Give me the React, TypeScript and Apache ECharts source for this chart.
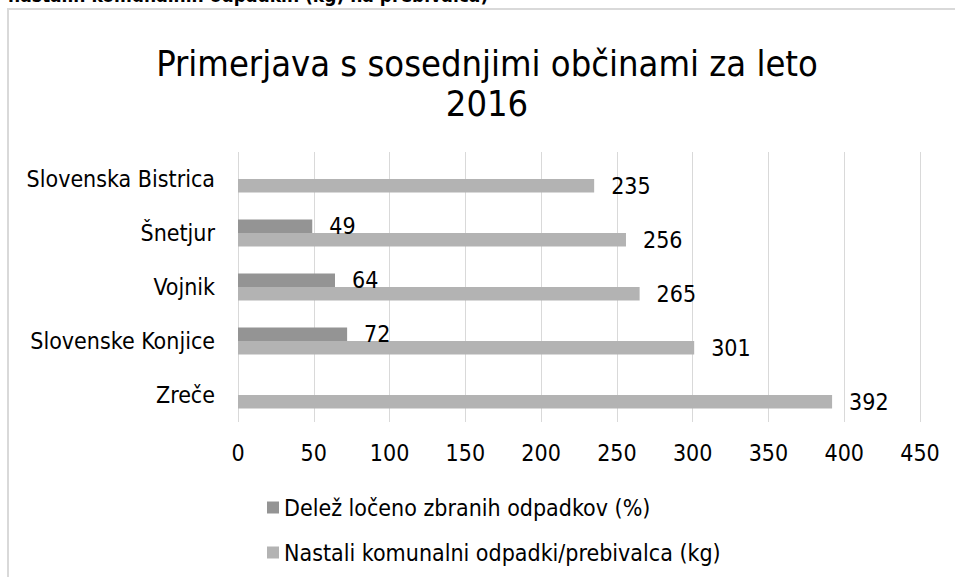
import React, { useEffect, useRef } from "react";
import * as echarts from "echarts";

const categories = ["Slovenska Bistrica", "Šnetjur", "Vojnik", "Slovenske Konjice", "Zreče"];
const sharePercent = [null, 49, 64, 72, null];
const wasteKgPerCapita = [235, 256, 265, 301, 392];
const seriesNames = ["Delež ločeno zbranih odpadkov (%)", "Nastali komunalni odpadki/prebivalca (kg)"];
const titleText = "Primerjava s sosednjimi občinami za leto\n2016";
const cutHeading = "nastalih komunalnih odpadkih (kg) na prebivalca)";

const FONT = "'DejaVu Sans Condensed', 'DejaVu Sans', sans-serif";

export default function App() {
  const ref = useRef<HTMLDivElement>(null);
  useEffect(() => {
    if (!ref.current) return;
    const chart = echarts.init(ref.current, null, { renderer: "svg" });
    const labelStyle = {
      show: true,
      position: "right" as const,
      distance: 17,
      fontSize: 23,
      fontFamily: FONT,
      color: "#000",
    };
    chart.setOption({
      animation: false,
      backgroundColor: "#fff",
      textStyle: { fontFamily: FONT },
      graphic: [
        {
          type: "line",
          shape: { x1: 8, y1: 9, x2: 8, y2: 577 },
          style: { stroke: "#d9d9d9", lineWidth: 2 },
        },
        {
          type: "line",
          shape: { x1: 7, y1: 9, x2: 955, y2: 9 },
          style: { stroke: "#d9d9d9", lineWidth: 2 },
        },
        {
          type: "text",
          x: 8,
          y: -5,
          style: {
            text: cutHeading,
            fontSize: 19,
            fontWeight: "bold",
            fontFamily: FONT,
            fill: "#000",
            verticalAlign: "middle",
          },
        },
      ],
      title: {
        text: titleText,
        left: 482,
        textAlign: "center",
        top: 38,
        textStyle: {
          fontSize: 36,
          fontWeight: "normal",
          fontFamily: FONT,
          color: "#000",
          lineHeight: 40,
        },
      },
      legend: {
        orient: "vertical",
        left: 262,
        top: 491,
        itemWidth: 12,
        itemHeight: 12,
        itemGap: 22,
        icon: "rect",
        textStyle: { fontSize: 23, fontFamily: FONT, color: "#000" },
        data: seriesNames,
      },
      grid: { left: 238, right: 35, top: 152, bottom: 155 },
      xAxis: {
        type: "value",
        min: 0,
        max: 450,
        interval: 50,
        axisLine: { show: false },
        axisTick: { show: false },
        splitLine: { lineStyle: { color: "#d9d9d9", width: 1 } },
        axisLabel: { fontSize: 23, fontFamily: FONT, color: "#000", margin: 19 },
      },
      yAxis: {
        type: "category",
        inverse: true,
        data: categories,
        axisLine: { show: false },
        axisTick: { show: false },
        axisLabel: { fontSize: 23, fontFamily: FONT, color: "#000", margin: 23 },
      },
      series: [
        {
          name: seriesNames[0],
          type: "bar",
          data: sharePercent,
          barWidth: 13.5,
          barGap: "0%",
          barCategoryGap: "50%",
          itemStyle: { color: "#949494" },
          label: labelStyle,
        },
        {
          name: seriesNames[1],
          type: "bar",
          data: wasteKgPerCapita,
          barWidth: 13.5,
          barGap: "0%",
          barCategoryGap: "50%",
          itemStyle: { color: "#b3b3b3" },
          label: labelStyle,
        },
      ],
    });
    return () => chart.dispose();
  }, []);
  return (
    <div
      ref={ref}
      style={{ position: "fixed", left: 0, top: 0, width: 955, height: 577 }}
    />
  );
}
